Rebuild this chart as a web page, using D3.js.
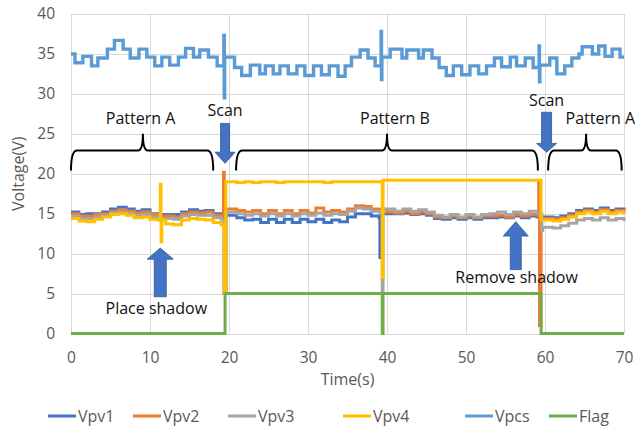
<!DOCTYPE html>
<html>
<head>
<meta charset="utf-8">
<script src="https://cdn.jsdelivr.net/npm/d3@7"></script>
<style>
  body { margin: 0; background: #fff; }
  svg { display: block; }
  text { font-family: "Open Sans", sans-serif; }
</style>
</head>
<body>
<svg id="chart" width="635" height="428"></svg>
<script>
// sample times (s) for the four panel voltages
var pvTime = [0,1,2,3,4,5,6,7,8,9,10,11,12,13,14,15,16,17,18,19,
  20,21,22,23,24,25,26,27,28,29,30,31,32,33,34,35,36,37,38,39,
  40,41,42,43,44,45,46,47,48,49,50,51,52,53,54,55,56,57,58,59,
  60,61,62,63,64,65,66,67,68,69,70];

var vpv1 = [15.2,14.9,15.0,15.0,15.2,15.6,15.8,15.6,15.3,15.5,15.0,14.9,14.9,14.9,15.2,15.5,15.3,15.4,15.0,14.8,
  14.8,14.5,14.2,14.3,13.9,14.3,13.9,14.3,13.9,14.3,14.0,14.3,13.9,14.2,14.0,14.6,15.0,15.0,14.7,14.5,
  15.0,15.0,15.1,14.9,15.0,14.8,14.4,14.3,14.5,14.3,14.5,14.3,14.5,14.5,14.6,14.5,14.7,14.5,14.7,14.6,
  14.6,14.5,14.7,15.0,15.4,15.6,15.4,15.7,15.4,15.6,15.3];
var vpv2 = [15.0,14.7,14.7,14.9,15.0,15.3,15.5,15.3,15.1,15.2,14.9,14.6,14.7,14.6,15.0,15.2,15.1,15.2,14.8,14.6,
  15.6,15.4,15.2,15.4,15.0,15.4,15.0,15.4,15.0,15.4,15.1,15.7,15.2,15.4,15.2,15.6,16.0,15.9,15.6,15.5,
  15.2,15.1,15.3,15.0,15.2,15.0,14.6,14.5,14.7,14.5,14.7,14.5,14.7,14.7,14.8,14.6,14.9,14.7,14.9,14.8,
  14.4,14.3,14.5,14.8,15.2,15.4,15.2,15.5,15.2,15.4,15.1];
var vpv3 = [14.7,14.4,14.4,14.6,14.8,15.1,15.2,15.0,14.8,14.9,14.6,14.3,14.4,14.3,14.7,14.9,14.8,14.8,14.5,14.3,
  15.2,15.0,14.8,15.0,14.7,15.0,14.7,15.0,14.7,15.0,14.8,15.1,14.8,15.0,14.9,15.3,15.7,15.6,15.3,15.2,
  15.6,15.3,15.6,15.3,15.5,15.2,14.8,14.6,14.9,14.6,14.9,14.6,14.9,15.0,15.2,14.9,15.2,15.0,15.3,15.0,
  13.3,13.2,13.5,13.8,14.2,14.4,14.2,14.5,14.2,14.4,14.1];
var vpv4 = [14.4,14.1,14.0,14.3,14.6,14.9,15.0,14.8,14.5,14.6,14.3,14.2,13.7,13.6,14.2,14.4,14.3,14.2,13.9,13.6,
  19.0,18.9,19.0,18.9,19.0,19.0,18.9,19.0,19.0,19.0,19.0,19.0,18.9,19.0,19.0,19.0,19.0,19.0,19.0,19.0,
  19.2,19.2,19.2,19.2,19.2,19.2,19.2,19.2,19.2,19.2,19.2,19.2,19.2,19.2,19.2,19.2,19.2,19.2,19.2,19.2,
  14.2,14.1,14.3,14.6,15.0,15.2,15.0,15.3,15.0,15.2,14.9];

// short transients (scan / shadow) as [time, volt]
var vpv1Events = [[19.4,5.0],[19.6,14.8],[39.1,9.5],[39.3,15.0],[59.6,14.6]];
var vpv2Events = [[19.3,20.2],[19.4,5.0],[19.6,15.6],[59.2,19.0],[59.3,1.0],[59.5,14.4]];
var vpv3Events = [[19.4,5.0],[19.6,15.2],[39.4,5.2],[39.5,15.6],[59.6,12.9],[59.7,13.3]];
var vpv4Events = [[11.3,18.7],[11.4,11.5],[11.5,14.2],[19.4,5.0],[19.6,19.0],[39.4,7.0],[39.5,19.2],[59.5,14.2]];

var pcsTime = [0,0.5,1.5,2.6,3.4,4.6,5.5,6.6,7.5,8.6,9.6,10.6,11.5,12.5,13.6,14.5,15.5,16.3,17.4,18.5,
  19.35,19.4,19.45,20.7,21.6,22.7,23.9,24.6,25.6,26.45,27.5,28.6,29.6,30.7,31.7,32.7,33.8,34.7,35.5,36.6,
  37.6,38.5,39.25,39.3,39.35,40.4,41.9,42.5,44.0,44.6,45.7,46.6,47.5,48.4,49.45,50.5,51.6,52.6,53.6,54.5,
  55.6,56.4,57.5,58.5,59.25,59.3,59.35,60.6,61.5,62.5,63.4,64.3,64.7,66.0,66.8,67.6,68.5,69.5,70];
var pcsVolt = [35.0,33.9,34.7,33.5,34.5,35.6,36.7,35.6,34.5,35.6,34.6,33.5,34.6,33.6,34.6,35.7,34.6,35.5,34.6,33.5,
  37.3,29.5,34.6,33.3,32.3,33.6,32.5,33.5,32.5,33.5,32.5,33.5,32.3,33.5,32.4,33.5,32.2,33.5,34.6,35.5,
  34.5,33.5,37.8,31.8,34.6,35.6,34.5,35.5,34.5,35.5,34.5,33.3,32.3,33.5,32.4,33.5,32.5,33.5,34.5,33.4,
  34.6,33.5,34.5,33.3,36.0,31.5,33.6,34.5,32.5,33.5,34.5,35.0,35.9,35.0,36.0,34.7,35.6,34.6,34.6];

var flagTime = [0,19.5,39.4,39.5,59.5,70];
var flagVolt = [0,5,0,5,0,0];

var seriesNames = ["Vpv1","Vpv2","Vpv3","Vpv4","Vpcs","Flag"];
var seriesColors = ["#4472C4","#ED7D31","#A5A5A5","#FFC000","#5B9BD5","#70AD47"];

var xTicks = [0,10,20,30,40,50,60,70];
var yTicks = [0,5,10,15,20,25,30,35,40];

function pvPoints(values, events) {
  var pts = pvTime.map(function(t, i) { return [t, values[i]]; });
  return pts.concat(events).sort(function(a, b) { return a[0] - b[0]; });
}

function zipPoints(times, volts) {
  return times.map(function(t, i) { return [t, volts[i]]; });
}

var svg = d3.select("#chart");
var margins = {top: 14, right: 11, bottom: 94.5, left: 71};
var width = +svg.attr("width") - margins.left - margins.right,
    height = +svg.attr("height") - margins.top - margins.bottom;

var x = d3.scaleLinear().domain([0, 70]).range([0, width]),
    y = d3.scaleLinear().domain([0, 40]).range([height, 0]);

var g = svg.append("g")
    .attr("transform", "translate(" + margins.left + "," + margins.top + ")");

// grid
g.append("g").selectAll("line").data(yTicks).enter().append("line")
    .attr("x1", 0).attr("x2", width)
    .attr("y1", function(d) { return Math.round(y(d)) + 0.5; })
    .attr("y2", function(d) { return Math.round(y(d)) + 0.5; })
    .attr("stroke", "#D9D9D9").attr("stroke-width", 1);
g.append("g").selectAll("line").data(xTicks).enter().append("line")
    .attr("y1", 0).attr("y2", height)
    .attr("x1", function(d) { return Math.round(x(d)) + 0.5; })
    .attr("x2", function(d) { return Math.round(x(d)) + 0.5; })
    .attr("stroke", "#D9D9D9").attr("stroke-width", 1);

// axes
var yAxis = g.append("g")
    .call(d3.axisLeft(y).tickValues(yTicks).tickSize(0).tickPadding(16));
var xAxis = g.append("g")
    .attr("transform", "translate(0," + height + ")")
    .call(d3.axisBottom(x).tickValues(xTicks).tickSize(0).tickPadding(18));
[yAxis, xAxis].forEach(function(a) {
  a.select(".domain").remove();
  a.selectAll("text").attr("fill", "#595959").style("font-size", "15.5px")
    .style("font-family", "'Open Sans', sans-serif");
});

svg.append("text")
    .attr("transform", "translate(24," + (margins.top + height / 2) + ") rotate(-90)")
    .attr("text-anchor", "middle")
    .attr("fill", "#595959").style("font-size", "16px")
    .text("Voltage(V)");
svg.append("text")
    .attr("x", margins.left + width / 2).attr("y", 385)
    .attr("text-anchor", "middle")
    .attr("fill", "#595959").style("font-size", "16px")
    .text("Time(s)");

// series
var line = d3.line()
    .x(function(d) { return x(d[0]); })
    .y(function(d) { return y(d[1]); })
    .curve(d3.curveStepAfter);

var seriesData = [
  pvPoints(vpv1, vpv1Events),
  pvPoints(vpv2, vpv2Events),
  pvPoints(vpv3, vpv3Events),
  pvPoints(vpv4, vpv4Events),
  zipPoints(pcsTime, pcsVolt),
  zipPoints(flagTime, flagVolt)
];

g.selectAll(".series")
  .data(seriesData)
  .enter().append("path")
    .attr("class", "series")
    .attr("fill", "none")
    .attr("stroke", function(d, i) { return seriesColors[i]; })
    .attr("stroke-width", function(d, i) { return i == 4 ? 3.4 : 3; })
    .attr("stroke-linejoin", "miter")
    .attr("d", line);

// annotations (in data units)
var braceLabels = ["Pattern A", "Pattern B", "Pattern A"];
var braceStart = [0, 20.9, 60.4];
var braceEnd = [18.0, 59.1, 69.7];
var braceMid = [9.1, 40.0, 65.2];
var braceLabelX = [8.8, 41.0, 67.0];

var ann = g.append("g");
braceLabels.forEach(function(label, i) {
  var x0 = x(braceStart[i]), x1 = x(braceEnd[i]), xm = x(braceMid[i]);
  var yh = y(22.9), ye = y(20.4), yc = y(25.0);
  var p = "M" + x0 + "," + ye +
    " Q" + x0 + "," + yh + " " + (x0 + 6) + "," + yh +
    " L" + (xm - 5) + "," + yh +
    " Q" + xm + "," + yh + " " + xm + "," + yc +
    " Q" + xm + "," + yh + " " + (xm + 5) + "," + yh +
    " L" + (x1 - 6) + "," + yh +
    " Q" + x1 + "," + yh + " " + x1 + "," + ye;
  ann.append("path").attr("d", p).attr("fill", "none")
    .attr("stroke", "#000").attr("stroke-width", 2);
  ann.append("text")
    .attr("x", x(braceLabelX[i])).attr("y", y(26.2))
    .attr("text-anchor", "middle").attr("fill", "#111")
    .style("font-size", "16px").text(label);
});

var noteLabels = ["Scan", "Scan", "Place shadow", "Remove shadow"];
var noteX = [19.5, 60.2, 10.8, 56.4];
var noteY = [27.2, 28.5, 2.4, 6.3];
ann.selectAll(".note").data(noteLabels).enter().append("text")
    .attr("class", "note")
    .attr("x", function(d, i) { return x(noteX[i]); })
    .attr("y", function(d, i) { return y(noteY[i]); })
    .attr("text-anchor", "middle").attr("fill", "#111")
    .style("font-size", "16px")
    .text(function(d) { return d; });

// block arrows: x, tail, head base, tip (volts)
var arrowX = [19.5, 60.2, 11.3, 56.3];
var arrowTail = [26.3, 27.7, 4.6, 8.0];
var arrowNeck = [22.7, 23.8, 9.3, 12.2];
var arrowTip = [21.3, 22.7, 10.7, 14.0];
var arrowShaft = [9, 10, 12, 11];
var arrowHead = [20, 20, 26, 25];

arrowX.forEach(function(t, i) {
  var cx = x(t), s = arrowShaft[i] / 2, h = arrowHead[i] / 2;
  var yt = y(arrowTail[i]), yn = y(arrowNeck[i]), yp = y(arrowTip[i]);
  var pts = [[cx - s, yt], [cx + s, yt], [cx + s, yn], [cx + h, yn],
             [cx, yp], [cx - h, yn], [cx - s, yn]];
  ann.append("polygon")
    .attr("points", pts.map(function(p) { return p.join(","); }).join(" "))
    .attr("fill", "#4472C4").attr("stroke", "#2F5597").attr("stroke-width", 0.8);
});

// legend
var legendX = [48, 133, 228, 343, 465, 549];
var legend = svg.append("g").attr("transform", "translate(0,416)");
seriesNames.forEach(function(name, i) {
  legend.append("line")
    .attr("x1", legendX[i]).attr("x2", legendX[i] + 28)
    .attr("y1", 0).attr("y2", 0)
    .attr("stroke", seriesColors[i]).attr("stroke-width", 3);
  legend.append("text")
    .attr("x", legendX[i] + 30).attr("y", 5.5)
    .attr("fill", "#595959").style("font-size", "16px")
    .text(name);
});
</script>
</body>
</html>
